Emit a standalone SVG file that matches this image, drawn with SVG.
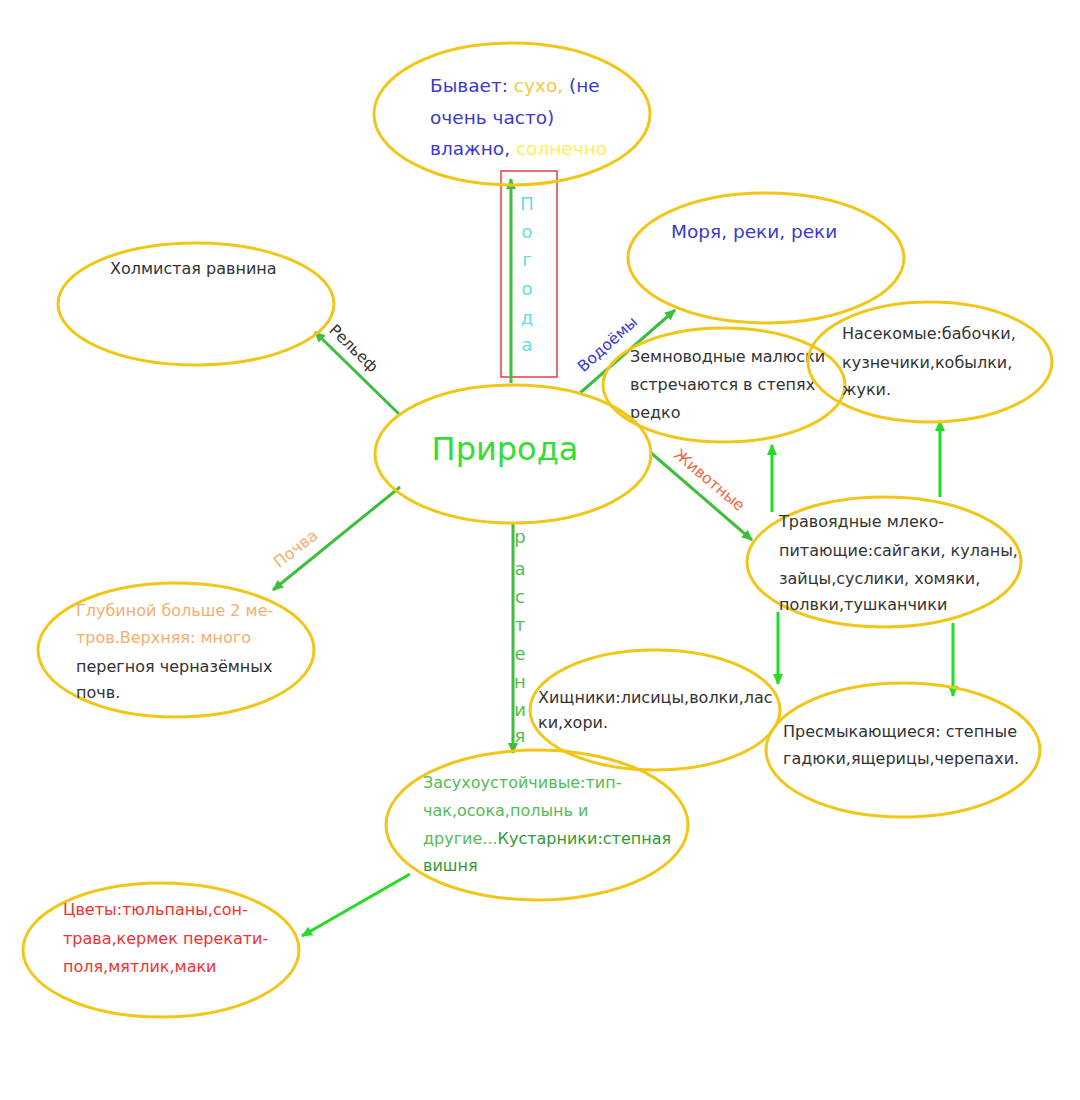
<svg xmlns="http://www.w3.org/2000/svg" width="1080" height="1100" viewBox="0 0 1080 1100">
<defs>
<marker id="ah" markerWidth="12" markerHeight="12" refX="10" refY="6" orient="auto" markerUnits="userSpaceOnUse">
<path d="M0,1 L11,6 L0,11 Z" fill="#3cbf3c"/>
</marker>
<marker id="ahb" markerWidth="12" markerHeight="12" refX="10" refY="6" orient="auto" markerUnits="userSpaceOnUse">
<path d="M0,1 L11,6 L0,11 Z" fill="#22dd22"/>
</marker>
<style>
.n{fill:none;stroke:#f2c618;stroke-width:3}
.t{font-family:"DejaVu Sans","Liberation Sans",sans-serif;fill:#333}
.c{stroke:#3cbf3c;stroke-width:3;fill:none;marker-end:url(#ah)}
.cb{stroke:#22dd22;stroke-width:3;fill:none;marker-end:url(#ahb)}
.bl{fill:#3a3acc}
.yl{fill:#f5c842}
.yy{fill:#ffee55}
.pc{fill:#f5ae70}
.rd{fill:#ee3333}
.lg{fill:#55bb55}
.dg{fill:#339933}
.tq{fill:#66dddd}
.or{fill:#ee6644}
.gc{fill:#33dd33}
</style>
</defs>
<rect width="1080" height="1100" fill="#fff"/>
<g id="connectors">
<rect x="501" y="171" width="56" height="206" fill="none" stroke="#e04040" stroke-width="1.5"/>
<line class="c" x1="511" y1="383" x2="511" y2="179"/>
<line class="c" x1="400" y1="415" x2="315" y2="332"/>
<line class="c" x1="580" y1="393" x2="675" y2="310"/>
<line class="c" x1="650" y1="452" x2="752" y2="540"/>
<line class="c" x1="400" y1="487" x2="273" y2="590"/>
<line class="c" x1="513" y1="522" x2="513" y2="753"/>
<line class="cb" x1="410" y1="874" x2="302" y2="936"/>
<line class="cb" x1="772" y1="512" x2="772" y2="445"/>
<line class="cb" x1="940" y1="497" x2="940" y2="421"/>
<line class="cb" x1="778" y1="612" x2="778" y2="684"/>
<line class="cb" x1="953" y1="623" x2="953" y2="696"/>
<g class="t" font-size="18" text-anchor="middle">
<text x="527" y="210" class="tq">П</text>
<text x="527" y="238" class="tq">о</text>
<text x="527" y="266" class="tq">г</text>
<text x="527" y="295" class="tq">о</text>
<text x="527" y="324" class="tq">д</text>
<text x="527" y="351" class="tq">а</text>
<text x="520" y="543" class="lg">р</text>
<text x="520" y="575" class="lg">а</text>
<text x="520" y="603" class="lg">с</text>
<text x="520" y="631" class="lg">т</text>
<text x="520" y="660" class="lg">е</text>
<text x="520" y="688" class="lg">н</text>
<text x="520" y="716" class="lg">и</text>
<text x="520" y="742" class="lg">я</text>
</g>
<text class="t" font-size="15.5" text-anchor="middle" transform="translate(350,352) rotate(44)">Рельеф</text>
<text class="t bl" font-size="15.5" text-anchor="middle" transform="translate(611,348) rotate(-42)">Водоёмы</text>
<text class="t or" font-size="15.5" text-anchor="middle" transform="translate(706,484) rotate(40)">Животные</text>
<text class="t pc" font-size="16" text-anchor="middle" transform="translate(299,553) rotate(-38)">Почва</text>
</g>
<g id="weather">
<ellipse class="n" cx="512" cy="114" rx="138" ry="71"/>
<text class="t bl" x="430" y="92" font-size="18.5">Бывает: <tspan class="yl">сухо,</tspan> (не</text>
<text class="t bl" x="430" y="124" font-size="18.5">очень часто)</text>
<text class="t bl" x="430" y="155" font-size="18.5">влажно, <tspan class="yy">солнечно</tspan></text>
</g>
<g id="relief">
<ellipse class="n" cx="196" cy="304" rx="138" ry="61"/>
<text class="t" x="110" y="274" font-size="16">Холмистая равнина</text>
</g>
<g id="water">
<ellipse class="n" cx="766" cy="258" rx="138" ry="65"/>
<text class="t bl" x="671" y="238" font-size="18.5">Моря, реки, реки</text>
</g>
<g id="amphibians">
<ellipse class="n" cx="724" cy="385" rx="121" ry="57"/>
<text class="t" x="630" y="362" font-size="16">Земноводные малюски</text>
<text class="t" x="630" y="390" font-size="16">встречаются в степях</text>
<text class="t" x="630" y="418" font-size="16">редко</text>
</g>
<g id="insects">
<ellipse class="n" cx="930" cy="362" rx="122" ry="60"/>
<text class="t" x="842" y="339" font-size="16">Насекомые:бабочки,</text>
<text class="t" x="842" y="368" font-size="16">кузнечики,кобылки,</text>
<text class="t" x="842" y="395" font-size="16">жуки.</text>
</g>
<g id="nature">
<ellipse class="n" cx="513" cy="454" rx="138" ry="69"/>
<text class="t gc" x="505" y="460" font-size="32" text-anchor="middle">Природа</text>
</g>
<g id="herbivores">
<ellipse class="n" cx="884" cy="562" rx="137" ry="65"/>
<text class="t" x="779" y="527" font-size="16">Травоядные млеко-</text>
<text class="t" x="779" y="556" font-size="16">питающие:сайгаки, куланы,</text>
<text class="t" x="779" y="584" font-size="16">зайцы,суслики, хомяки,</text>
<text class="t" x="779" y="610" font-size="16">полвки,тушканчики</text>
</g>
<g id="soil">
<ellipse class="n" cx="176" cy="650" rx="138" ry="67"/>
<text class="t pc" x="76" y="616" font-size="16">Глубиной больше 2 ме-</text>
<text class="t pc" x="76" y="643" font-size="16">тров.Верхняя: много</text>
<text class="t" x="76" y="672" font-size="16">перегноя черназёмных</text>
<text class="t" x="76" y="698" font-size="16">почв.</text>
</g>
<g id="predators">
<ellipse class="n" cx="655" cy="710" rx="125" ry="60"/>
<text class="t" x="538" y="703" font-size="16">Хищники:лисицы,волки,лас</text>
<text class="t" x="538" y="728" font-size="16">ки,хори.</text>
</g>
<g id="reptiles">
<ellipse class="n" cx="903" cy="750" rx="137" ry="67"/>
<text class="t" x="783" y="737" font-size="16">Пресмыкающиеся: степные</text>
<text class="t" x="783" y="764" font-size="16">гадюки,ящерицы,черепахи.</text>
</g>
<g id="plants">
<ellipse class="n" cx="537" cy="825" rx="151" ry="75"/>
<text class="t lg" x="423" y="788" font-size="16">Засухоустойчивые:тип-</text>
<text class="t lg" x="423" y="816" font-size="16">чак,осока,полынь и</text>
<text class="t lg" x="423" y="844" font-size="16">другие...<tspan class="dg">Кустарники:степная</tspan></text>
<text class="t dg" x="423" y="871" font-size="16">вишня</text>
</g>
<g id="flowers">
<ellipse class="n" cx="161" cy="950" rx="138" ry="67"/>
<text class="t rd" x="63" y="915" font-size="16">Цветы:тюльпаны,сон-</text>
<text class="t rd" x="63" y="944" font-size="16">трава,кермек перекати-</text>
<text class="t rd" x="63" y="972" font-size="16">поля,мятлик,маки</text>
</g>
</svg>
